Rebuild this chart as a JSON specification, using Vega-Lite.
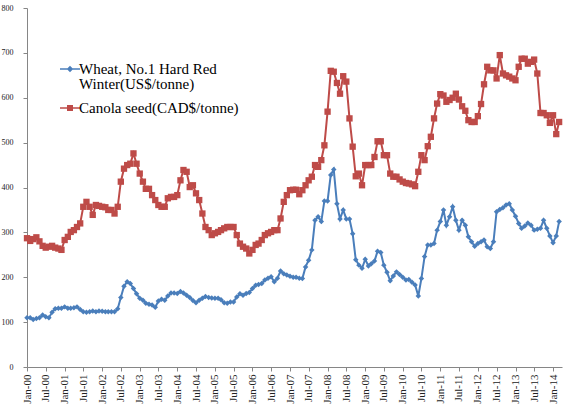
{
  "$schema": "https://vega.github.io/schema/vega-lite/v6.json",
  "width": 535,
  "height": 359,
  "autosize": "none",
  "padding": {"left": 27, "top": 8, "right": 6, "bottom": 37},
  "background": "white",
  "config": {"view": {"stroke": null}, "font": "Liberation Serif"},
  "datasets": {
    "prices": [
      {"d":"2000-01","w":110,"c":287},{"d":"2000-02","w":110,"c":281},{"d":"2000-03","w":106,"c":285},{"d":"2000-04","w":108,"c":289},{"d":"2000-05","w":110,"c":280},{"d":"2000-06","w":116,"c":270},{"d":"2000-07","w":112,"c":266},{"d":"2000-08","w":110,"c":268},{"d":"2000-09","w":122,"c":270},{"d":"2000-10","w":130,"c":266},{"d":"2000-11","w":131,"c":264},{"d":"2000-12","w":131,"c":261},
      {"d":"2001-01","w":134,"c":283},{"d":"2001-02","w":131,"c":290},{"d":"2001-03","w":131,"c":301},{"d":"2001-04","w":132,"c":305},{"d":"2001-05","w":134,"c":312},{"d":"2001-06","w":128,"c":320},{"d":"2001-07","w":123,"c":357},{"d":"2001-08","w":122,"c":368},{"d":"2001-09","w":123,"c":357},{"d":"2001-10","w":125,"c":339},{"d":"2001-11","w":123,"c":361},{"d":"2001-12","w":125,"c":359},
      {"d":"2002-01","w":124,"c":357},{"d":"2002-02","w":123,"c":356},{"d":"2002-03","w":123,"c":350},{"d":"2002-04","w":123,"c":350},{"d":"2002-05","w":123,"c":342},{"d":"2002-06","w":130,"c":357},{"d":"2002-07","w":155,"c":413},{"d":"2002-08","w":180,"c":442},{"d":"2002-09","w":190,"c":450},{"d":"2002-10","w":186,"c":453},{"d":"2002-11","w":175,"c":476},{"d":"2002-12","w":163,"c":453},
      {"d":"2003-01","w":153,"c":431},{"d":"2003-02","w":149,"c":413},{"d":"2003-03","w":142,"c":397},{"d":"2003-04","w":140,"c":397},{"d":"2003-05","w":138,"c":383},{"d":"2003-06","w":133,"c":372},{"d":"2003-07","w":147,"c":361},{"d":"2003-08","w":151,"c":357},{"d":"2003-09","w":149,"c":357},{"d":"2003-10","w":158,"c":376},{"d":"2003-11","w":165,"c":379},{"d":"2003-12","w":165,"c":379},
      {"d":"2004-01","w":164,"c":383},{"d":"2004-02","w":168,"c":416},{"d":"2004-03","w":165,"c":439},{"d":"2004-04","w":160,"c":435},{"d":"2004-05","w":155,"c":401},{"d":"2004-06","w":148,"c":405},{"d":"2004-07","w":143,"c":387},{"d":"2004-08","w":149,"c":372},{"d":"2004-09","w":153,"c":342},{"d":"2004-10","w":157,"c":312},{"d":"2004-11","w":155,"c":305},{"d":"2004-12","w":154,"c":294},
      {"d":"2005-01","w":153,"c":298},{"d":"2005-02","w":153,"c":301},{"d":"2005-03","w":150,"c":305},{"d":"2005-04","w":143,"c":309},{"d":"2005-05","w":142,"c":312},{"d":"2005-06","w":145,"c":312},{"d":"2005-07","w":145,"c":312},{"d":"2005-08","w":156,"c":294},{"d":"2005-09","w":163,"c":275},{"d":"2005-10","w":160,"c":268},{"d":"2005-11","w":164,"c":264},{"d":"2005-12","w":166,"c":253},
      {"d":"2006-01","w":175,"c":261},{"d":"2006-02","w":182,"c":272},{"d":"2006-03","w":184,"c":275},{"d":"2006-04","w":186,"c":283},{"d":"2006-05","w":194,"c":294},{"d":"2006-06","w":198,"c":298},{"d":"2006-07","w":201,"c":301},{"d":"2006-08","w":190,"c":305},{"d":"2006-09","w":198,"c":305},{"d":"2006-10","w":214,"c":331},{"d":"2006-11","w":208,"c":368},{"d":"2006-12","w":205,"c":383},
      {"d":"2007-01","w":202,"c":394},{"d":"2007-02","w":200,"c":395},{"d":"2007-03","w":200,"c":395},{"d":"2007-04","w":198,"c":385},{"d":"2007-05","w":197,"c":394},{"d":"2007-06","w":223,"c":405},{"d":"2007-07","w":238,"c":416},{"d":"2007-08","w":261,"c":424},{"d":"2007-09","w":327,"c":450},{"d":"2007-10","w":335,"c":446},{"d":"2007-11","w":324,"c":461},{"d":"2007-12","w":370,"c":494},
      {"d":"2008-01","w":370,"c":569},{"d":"2008-02","w":428,"c":660},{"d":"2008-03","w":440,"c":658},{"d":"2008-04","w":364,"c":633},{"d":"2008-05","w":330,"c":609},{"d":"2008-06","w":350,"c":648},{"d":"2008-07","w":330,"c":636},{"d":"2008-08","w":330,"c":554},{"d":"2008-09","w":297,"c":491},{"d":"2008-10","w":239,"c":425},{"d":"2008-11","w":227,"c":431},{"d":"2008-12","w":220,"c":405},
      {"d":"2009-01","w":240,"c":450},{"d":"2009-02","w":225,"c":450},{"d":"2009-03","w":230,"c":450},{"d":"2009-04","w":236,"c":468},{"d":"2009-05","w":258,"c":503},{"d":"2009-06","w":255,"c":503},{"d":"2009-07","w":227,"c":472},{"d":"2009-08","w":211,"c":472},{"d":"2009-09","w":192,"c":431},{"d":"2009-10","w":203,"c":424},{"d":"2009-11","w":212,"c":424},{"d":"2009-12","w":206,"c":418},
      {"d":"2010-01","w":200,"c":413},{"d":"2010-02","w":194,"c":410},{"d":"2010-03","w":195,"c":409},{"d":"2010-04","w":189,"c":407},{"d":"2010-05","w":183,"c":403},{"d":"2010-06","w":158,"c":435},{"d":"2010-07","w":197,"c":472},{"d":"2010-08","w":246,"c":461},{"d":"2010-09","w":272,"c":492},{"d":"2010-10","w":272,"c":513},{"d":"2010-11","w":275,"c":554},{"d":"2010-12","w":305,"c":587},
      {"d":"2011-01","w":324,"c":608},{"d":"2011-02","w":350,"c":605},{"d":"2011-03","w":316,"c":591},{"d":"2011-04","w":335,"c":595},{"d":"2011-05","w":357,"c":600},{"d":"2011-06","w":327,"c":609},{"d":"2011-07","w":305,"c":596},{"d":"2011-08","w":327,"c":581},{"d":"2011-09","w":316,"c":571},{"d":"2011-10","w":290,"c":550},{"d":"2011-11","w":279,"c":546},{"d":"2011-12","w":269,"c":546},
      {"d":"2012-01","w":275,"c":559},{"d":"2012-02","w":279,"c":586},{"d":"2012-03","w":283,"c":630},{"d":"2012-04","w":268,"c":669},{"d":"2012-05","w":264,"c":661},{"d":"2012-06","w":279,"c":661},{"d":"2012-07","w":346,"c":643},{"d":"2012-08","w":351,"c":695},{"d":"2012-09","w":355,"c":654},{"d":"2012-10","w":361,"c":650},{"d":"2012-11","w":364,"c":647},{"d":"2012-12","w":350,"c":643},
      {"d":"2013-01","w":336,"c":639},{"d":"2013-02","w":320,"c":669},{"d":"2013-03","w":309,"c":687},{"d":"2013-04","w":314,"c":687},{"d":"2013-05","w":321,"c":676},{"d":"2013-06","w":316,"c":680},{"d":"2013-07","w":305,"c":685},{"d":"2013-08","w":307,"c":654},{"d":"2013-09","w":309,"c":566},{"d":"2013-10","w":327,"c":566},{"d":"2013-11","w":309,"c":561},{"d":"2013-12","w":292,"c":544},
      {"d":"2014-01","w":277,"c":561},{"d":"2014-02","w":292,"c":519},{"d":"2014-03","w":324,"c":546}
    ]
  },
  "data": {"name": "prices", "format": {"parse": {"d": "date:'%Y-%m'"}}},
  "transform": [{"fold": ["w", "c"], "as": ["s", "v"]}],
  "encoding": {
    "x": {
      "field": "d", "type": "temporal",
      "scale": {"domain": [{"year": 2000, "month": 1, "date": 1}, {"year": 2014, "month": 3, "date": 29}], "nice": false},
      "axis": {
        "title": null, "tickCount": {"interval": "month", "step": 6}, "format": "%b-%y",
        "labelAngle": -90, "labelFont": "Liberation Serif", "labelFontSize": 11, "labelColor": "#222222",
        "domainColor": "#868686", "tickColor": "#868686", "tickSize": 4, "labelPadding": 3,
        "grid": false, "labelOverlap": false, "labelBound": false, "labelFlush": false
      }
    },
    "y": {
      "field": "v", "type": "quantitative",
      "scale": {"domain": [0, 800], "nice": false},
      "axis": {
        "title": null, "values": [0, 100, 200, 300, 400, 500, 600, 700, 800],
        "labelFont": "Liberation Serif", "labelFontSize": 8, "labelColor": "#222222",
        "domainColor": "#868686", "tickColor": "#868686", "tickSize": 4, "labelPadding": 10, "grid": false
      }
    },
    "color": {
      "field": "s", "type": "nominal",
      "scale": {"domain": ["w", "c"], "range": ["#4a7ebb", "#be4b48"]},
      "legend": {
        "orient": "none", "legendX": 33, "legendY": 51, "title": null,
        "labelExpr": "datum.value == 'w' ? ['Wheat, No.1 Hard Red', 'Winter(US$/tonne)'] : 'Canola seed(CAD$/tonne)'",
        "labelFont": "Liberation Serif", "labelFontSize": 15, "labelColor": "#000000",
        "labelBaseline": "top", "labelOffset": -1, "labelLimit": 0,
        "symbolType": "M-1,-0.08L1,-0.08L1,0.08L-1,0.08ZM0,-0.32L0.32,0L0,0.32L-0.32,0Z",
        "symbolSize": 400, "symbolStrokeWidth": 0, "rowPadding": 6,
        "encoding": {
          "labels": {"dy": {"value": -7.5}, "lineHeight": {"value": 15}},
          "symbols": {
            "shape": {"condition": {"test": "datum.value === 'c'", "value": "M-1,-0.08L1,-0.08L1,0.08L-1,0.08ZM-0.3,-0.3L0.3,-0.3L0.3,0.3L-0.3,0.3Z"}, "value": "M-1,-0.08L1,-0.08L1,0.08L-1,0.08ZM0,-0.32L0.32,0L0,0.32L-0.32,0Z"},
            "fill": {"condition": {"test": "datum.value === 'c'", "value": "#be4b48"}, "value": "#4a7ebb"},
            "opacity": {"value": 1},
            "fillOpacity": {"value": 1}
          }
        }
      }
    }
  },
  "layer": [
    {"mark": {"type": "line", "strokeWidth": 2}},
    {
      "transform": [{"filter": "datum.s === 'w'"}],
      "mark": {"type": "point", "filled": true, "opacity": 1, "shape": "diamond", "size": 30}
    },
    {
      "transform": [{"filter": "datum.s === 'c'"}],
      "mark": {"type": "point", "filled": true, "opacity": 1, "shape": "square", "size": 40}
    }
  ]
}
